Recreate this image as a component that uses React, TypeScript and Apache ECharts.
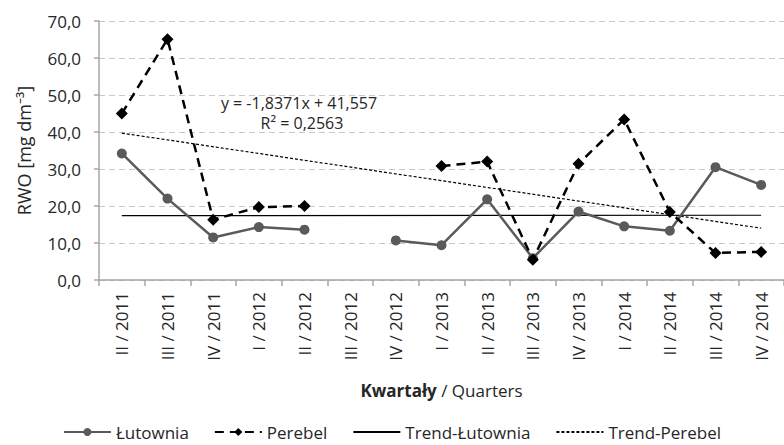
import React, { useEffect, useRef } from "react";
import * as echarts from "echarts";

const categories = [
  "II / 2011", "III / 2011", "IV / 2011", "I / 2012", "II / 2012", "III / 2012", "IV / 2012",
  "I / 2013", "II / 2013", "III / 2013", "IV / 2013", "I / 2014", "II / 2014", "III / 2014", "IV / 2014",
];
const lutownia = [34.2, 22.0, 11.5, 14.3, 13.6, null, 10.7, 9.4, 21.8, 5.9, 18.5, 14.5, 13.3, 30.5, 25.7];
const perebel = [45.0, 65.1, 16.3, 19.7, 20.0, null, null, 30.8, 32.0, 5.5, 31.4, 43.4, 18.4, 7.3, 7.6];
const trendLutownia = [["II / 2011", 17.4], ["IV / 2014", 17.5]];
const trendPerebel = [["II / 2011", 39.7], ["IV / 2014", 14.0]];
const yTicks = { min: 0, max: 70, interval: 10 };
const equationText = "y = -1,8371x + 41,557";
const r2Text = "R² = 0,2563";

const FONT = "'Open Sans', 'Noto Sans', sans-serif";
const TXT = "#262626";

export default function App() {
  const ref = useRef<HTMLDivElement>(null);
  useEffect(() => {
    if (!ref.current) return;
    const chart = echarts.init(ref.current, null, { renderer: "svg" });
    chart.setOption({
      animation: false,
      textStyle: { fontFamily: FONT, color: TXT },
      grid: { left: 99, top: 21, width: 690, height: 259, containLabel: false },
      xAxis: {
        type: "category",
        data: categories,
        boundaryGap: true,
        axisLine: { lineStyle: { color: "#a6a6a6", width: 1.5 } },
        axisTick: { show: true, length: 6, lineStyle: { color: "#a6a6a6", width: 1.5 } },
        axisLabel: { rotate: 90, fontSize: 17, color: TXT, margin: 12, fontFamily: FONT, interval: 0 },
        name: "{b|Kwartały} / Quarters",
        nameLocation: "middle",
        nameGap: 102,
        nameTextStyle: {
          fontSize: 17,
          color: TXT,
          fontFamily: FONT,
          rich: { b: { fontWeight: "bold", fontSize: 17, color: TXT, fontFamily: FONT } },
        },
      },
      yAxis: {
        type: "value",
        min: yTicks.min,
        max: yTicks.max,
        interval: yTicks.interval,
        axisLine: { show: true, lineStyle: { color: "#a6a6a6", width: 1.5 } },
        axisTick: { show: true, length: 5, lineStyle: { color: "#a6a6a6", width: 1.5 } },
        axisLabel: {
          fontSize: 17,
          color: TXT,
          margin: 18,
          fontFamily: FONT,
          formatter: (v: number) => v.toFixed(1).replace(".", ","),
        },
        splitLine: { show: true, lineStyle: { color: "#c8c8c8", type: [6, 4], width: 1.2 } },
        name: "RWO [mg dm⁻³]",
        nameLocation: "middle",
        nameGap: 66,
        nameRotate: 90,
        nameTextStyle: { fontSize: 18, color: TXT, fontFamily: FONT },
      },
      legend: {
        top: 423,
        left: "center",
        padding: 0,
        itemWidth: 47,
        itemHeight: 10,
        itemGap: 25,
        textStyle: { fontSize: 17, lineHeight: 18, color: TXT, fontFamily: FONT },
        data: [
          { name: "Łutownia" },
          { name: "Perebel" },
          { name: "Trend-Łutownia", itemStyle: { opacity: 0 } },
          { name: "Trend-Perebel", itemStyle: { opacity: 0 } },
        ],
      },
      series: [
        {
          name: "Łutownia",
          type: "line",
          data: lutownia,
          connectNulls: false,
          symbol: "circle",
          symbolSize: 10,
          itemStyle: { color: "#5a5a5a" },
          lineStyle: { color: "#5a5a5a", width: 2.5 },
          z: 3,
        },
        {
          name: "Perebel",
          type: "line",
          data: perebel,
          connectNulls: false,
          symbol: "diamond",
          symbolSize: 12,
          itemStyle: { color: "#000" },
          lineStyle: { color: "#000", width: 2.5, type: [9, 6] },
          z: 4,
        },
        {
          name: "Trend-Łutownia",
          type: "line",
          data: trendLutownia,
          symbol: "none",
          itemStyle: { color: "#000" },
          lineStyle: { color: "#000", width: 1.2 },
          z: 2,
        },
        {
          name: "Trend-Perebel",
          type: "line",
          data: trendPerebel,
          symbol: "none",
          itemStyle: { color: "#000" },
          lineStyle: { color: "#000", width: 1.2, type: [3, 2] },
          z: 2,
        },
      ],
      graphic: [
        {
          type: "text",
          x: 299,
          y: 103,
          style: { text: equationText, fontSize: 16, fill: TXT, fontFamily: FONT, align: "center", verticalAlign: "middle" },
        },
        {
          type: "text",
          x: 302,
          y: 123,
          style: { text: r2Text, fontSize: 16, fill: TXT, fontFamily: FONT, align: "center", verticalAlign: "middle" },
        },
      ],
    });
    return () => chart.dispose();
  }, []);
  return <div ref={ref} style={{ width: 784, height: 445, position: "absolute", left: 0, top: 0 }} />;
}
